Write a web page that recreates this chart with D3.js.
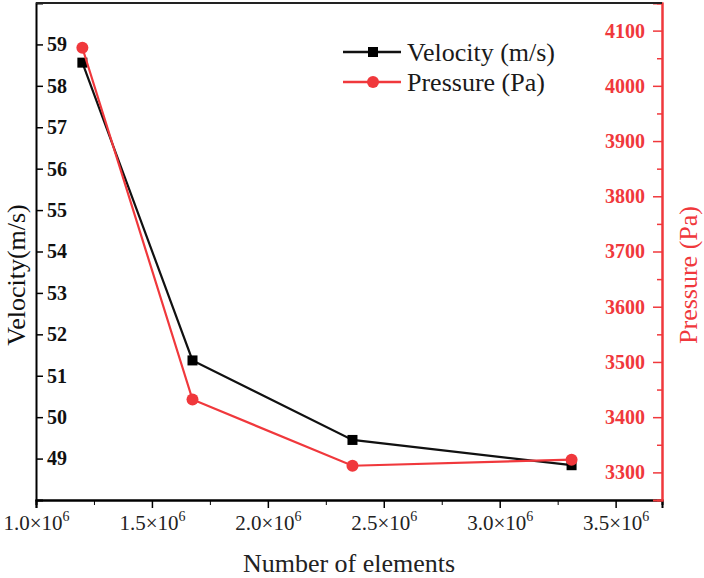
<!DOCTYPE html>
<html>
<head>
<meta charset="utf-8">
<script src="https://cdn.jsdelivr.net/npm/d3@7"></script>
<style>
  body { margin: 0; background: #fff; }
  svg { display: block; }
  text, tspan { font-family: "Liberation Serif", "Times New Roman", serif !important; }
</style>
</head>
<body>
<div id="chart"></div>
<script>
// data
var elements = [1.2e6, 1.675e6, 2.365e6, 3.31e6];
var velocity = [58.56, 51.37, 49.45, 48.84];
var pressure = [4069, 3432, 3312, 3323];
var xTicks = [1.0e6, 1.5e6, 2.0e6, 2.5e6, 3.0e6, 3.5e6];
var velTicks = [49, 50, 51, 52, 53, 54, 55, 56, 57, 58, 59];
var presTicks = [3300, 3400, 3500, 3600, 3700, 3800, 3900, 4000, 4100];

var red = "#f0383c";
var svgWidth = 704, svgHeight = 578;
var margin = { top: 3, right: 42, bottom: 78, left: 36 };
var width = svgWidth - margin.left - margin.right;
var height = svgHeight - margin.top - margin.bottom;

var svg = d3.select("#chart").append("svg")
    .attr("width", svgWidth)
    .attr("height", svgHeight);

var g = svg.append("g")
    .attr("transform", "translate(" + margin.left + "," + margin.top + ")");

var xScale = d3.scaleLinear().domain([1.0e6, 3.7e6]).range([0, width]);
var yVel = d3.scaleLinear().domain([48, 60]).range([height, 0]);
var yPres = d3.scaleLinear().domain([3250, 4150]).range([height, 0]);

// x axis (ticks outward)
var xg = g.append("g")
    .attr("transform", "translate(0," + height + ")")
    .call(d3.axisBottom(xScale).tickValues(xTicks).tickSize(8).tickFormat(""));
g.append("g")
    .attr("transform", "translate(0," + height + ")")
    .call(d3.axisBottom(xScale).tickValues(d3.range(1.25e6, 3.7e6, 0.5e6)).tickSize(5).tickFormat(""));

xg.selectAll(".tick").append("text")
    .attr("y", 30)
    .attr("text-anchor", "middle")
    .attr("fill", "#222")
    .style("font-size", "21px")
    .each(function (d) {
        var t = d3.select(this);
        t.append("tspan").text((d / 1e6).toFixed(1) + "\u00d710");
        t.append("tspan").attr("dy", -9).style("font-size", "14px").text("6");
    });

// left axis (ticks inward, labels inside)
var yl = g.append("g")
    .call(d3.axisRight(yVel).tickValues(velTicks).tickSize(7).tickPadding(4));
yl.selectAll("text")
    .style("font-size", "20px")
    .style("font-weight", "bold")
    .attr("fill", "#111");

// right axis (ticks inward, labels inside)
var yr = g.append("g")
    .attr("transform", "translate(" + width + ",0)")
    .call(d3.axisLeft(yPres).tickValues(presTicks).tickSize(9).tickPadding(8).tickFormat(d3.format("d")));
yr.append("g").call(
    d3.axisLeft(yPres).tickValues(d3.range(3350, 4150, 100)).tickSize(5).tickFormat("")
);
yr.selectAll("text")
    .style("font-size", "20px")
    .style("font-weight", "bold")
    .attr("fill", red);
yr.selectAll("line").attr("stroke", red).attr("stroke-width", 1.5);
yr.selectAll(".domain").attr("stroke", red).attr("stroke-width", 2);

g.selectAll(".domain").attr("stroke-width", 2);
xg.selectAll("line").attr("stroke-width", 1.5);
yl.selectAll("line").attr("stroke-width", 1.5);

// top frame
g.append("line")
    .attr("x1", 0).attr("x2", width)
    .attr("y1", 0).attr("y2", 0)
    .attr("stroke", "#222").attr("stroke-width", 2);

// axis titles
svg.append("text")
    .attr("transform", "translate(" + (margin.left + width / 2) + "," + (svgHeight - 6) + ")")
    .attr("text-anchor", "middle")
    .style("font-size", "26px")
    .attr("fill", "#222")
    .text("Number of elements");

svg.append("text")
    .attr("transform", "translate(25,275) rotate(-90)")
    .attr("text-anchor", "middle")
    .style("font-size", "26px")
    .attr("fill", "#111")
    .text("Velocity(m/s)");

svg.append("text")
    .attr("transform", "translate(697,275) rotate(-90)")
    .attr("text-anchor", "middle")
    .style("font-size", "26px")
    .attr("fill", red)
    .text("Pressure (Pa)");

// series
var velLine = d3.line()
    .x(function (d, i) { return xScale(elements[i]); })
    .y(function (d) { return yVel(d); });
var presLine = d3.line()
    .x(function (d, i) { return xScale(elements[i]); })
    .y(function (d) { return yPres(d); });

g.append("path").datum(velocity)
    .attr("d", velLine)
    .attr("fill", "none").attr("stroke", "#111").attr("stroke-width", 2.2);
g.selectAll(".vel").data(velocity).enter().append("rect")
    .attr("class", "vel")
    .attr("x", function (d, i) { return xScale(elements[i]) - 5; })
    .attr("y", function (d) { return yVel(d) - 5; })
    .attr("width", 10).attr("height", 10)
    .attr("fill", "#000");

g.append("path").datum(pressure)
    .attr("d", presLine)
    .attr("fill", "none").attr("stroke", red).attr("stroke-width", 2.2);
g.selectAll(".pres").data(pressure).enter().append("circle")
    .attr("class", "pres")
    .attr("cx", function (d, i) { return xScale(elements[i]); })
    .attr("cy", function (d) { return yPres(d); })
    .attr("r", 6)
    .attr("fill", red);

// legend
var legend = svg.append("g").attr("transform", "translate(343,52)");
var items = [
    { label: "Velocity (m/s)", color: "#111", shape: "square" },
    { label: "Pressure (Pa)", color: red, shape: "circle" }
];
items.forEach(function (it, i) {
    var row = legend.append("g").attr("transform", "translate(0," + i * 30 + ")");
    row.append("line").attr("x1", 0).attr("x2", 58)
        .attr("stroke", it.color).attr("stroke-width", 2.5);
    if (it.shape === "square") {
        row.append("rect").attr("x", 25).attr("y", -5).attr("width", 10).attr("height", 10).attr("fill", "#000");
    } else {
        row.append("circle").attr("cx", 30).attr("r", 6).attr("fill", it.color);
    }
    row.append("text").attr("x", 64).attr("y", 9)
        .style("font-size", "26px")
        .attr("fill", "#1a1a1a")
        .text(it.label);
});
</script>
</body>
</html>
